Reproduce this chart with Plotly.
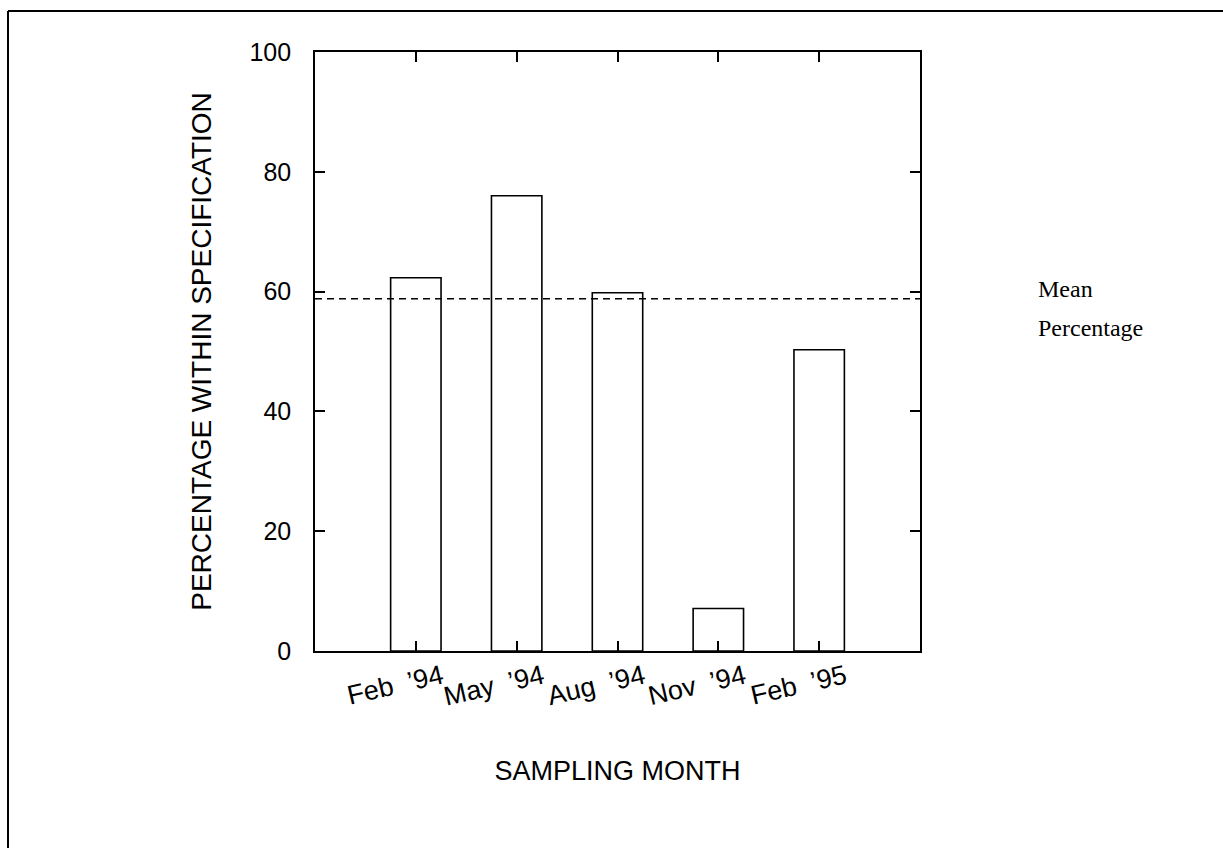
import plotly.graph_objects as go

months = ["Feb \u00a0\u201994", "May \u00a0\u201994", "Aug \u00a0\u201994", "Nov \u00a0\u201994", "Feb \u00a0\u201995"]
positions = [1, 2, 3, 4, 5]
percent_within = [62.3, 76.0, 59.8, 7.1, 50.3]
mean_percentage = 58.8
y_ticks = [0, 20, 40, 60, 80, 100]

W, H = 1223, 848
L, R, T, B = 315, 303, 52, 197
pw, ph = W - L - R, H - T - B

fig = go.Figure()
fig.add_trace(go.Bar(
    x=positions, y=percent_within, width=0.5,
    marker=dict(color="white", line=dict(color="black", width=1.6)),
    showlegend=False, hoverinfo="skip",
))
fig.add_trace(go.Scatter(
    x=[0, 6], y=[mean_percentage, mean_percentage], mode="lines",
    line=dict(color="black", width=1.6, dash="7px,5px"),
    showlegend=False, hoverinfo="skip",
))

sans = "Liberation Sans, Arial, sans-serif"
fig.update_layout(
    width=W, height=H,
    margin=dict(l=L, r=R, t=T, b=B),
    paper_bgcolor="white", plot_bgcolor="white",
    font=dict(family=sans, color="black"),
    xaxis=dict(
        range=[0, 6], tickmode="array", tickvals=positions, ticktext=months,
        tickangle=-13, ticks="inside", ticklen=10, tickwidth=1.5, tickcolor="black",
        showline=True, linecolor="black", linewidth=1.6, mirror="ticks",
        showgrid=False, zeroline=False, tickfont=dict(size=27, family=sans),
        ticklabelshift=26, ticklabelstandoff=-2,
        title=dict(text="SAMPLING MONTH", font=dict(size=27, family=sans), standoff=50),
    ),
    yaxis=dict(
        range=[0, 100], tickmode="array", tickvals=y_ticks,
        ticks="inside", ticklen=10, tickwidth=1.5, tickcolor="black",
        showline=True, linecolor="black", linewidth=1.6, mirror="ticks",
        showgrid=False, zeroline=False, tickfont=dict(size=25, family=sans),
        ticklabelstandoff=17,
        title=dict(text="PERCENTAGE WITHIN SPECIFICATION", font=dict(size=28, family=sans), standoff=30),
    ),
    annotations=[
        dict(text="Mean", xref="paper", yref="y", x=(1036 - L) / pw, y=60.4,
             xanchor="left", yanchor="middle", showarrow=False,
             font=dict(family="Liberation Serif, Times New Roman, serif", size=24)),
        dict(text="Percentage", xref="paper", yref="y", x=(1036 - L) / pw, y=54.0,
             xanchor="left", yanchor="middle", showarrow=False,
             font=dict(family="Liberation Serif, Times New Roman, serif", size=24)),
    ],
    shapes=[
        dict(type="line", xref="paper", yref="paper",
             x0=(8 - L) / pw, x1=(W - L) / pw, y0=(H - B - 11) / ph, y1=(H - B - 11) / ph,
             line=dict(color="black", width=2)),
        dict(type="line", xref="paper", yref="paper",
             x0=(8 - L) / pw, x1=(8 - L) / pw, y0=(H - B - 11) / ph, y1=-(B) / ph,
             line=dict(color="black", width=2)),
    ],
)

fig.write_html("out.html")
